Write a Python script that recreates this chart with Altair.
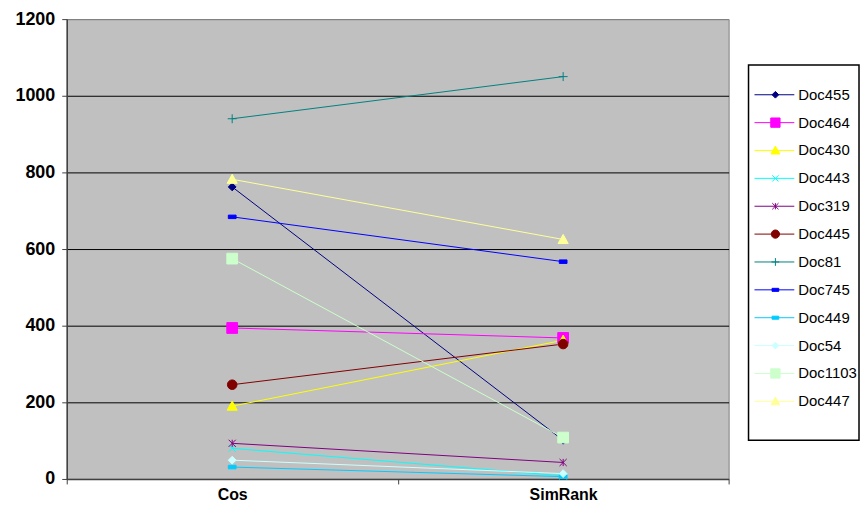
import altair as alt
import pandas as pd

docs = ["Doc455", "Doc464", "Doc430", "Doc443", "Doc319", "Doc445",
        "Doc81", "Doc745", "Doc449", "Doc54", "Doc1103", "Doc447"]
methods = ["Cos", "SimRank"]
cos_vals = [762, 394, 190, 80, 93, 246, 940, 684, 31, 49, 575, 782]
simrank_vals = [101, 368, 362, 8, 43, 352, 1050, 567, 6, 14, 108, 625]
y_ticks = [0, 200, 400, 600, 800, 1000, 1200]

colors = ["#000080", "#FF00FF", "#FFFF00", "#00FFFF", "#800080", "#800000",
          "#008080", "#0000FF", "#00CCFF", "#CCFFFF", "#CCFFCC", "#FFFF99"]
kinds = ["diamond", "square", "triangle", "x", "asterisk", "circle",
         "plus", "dash", "dash", "diamond", "square", "triangle"]
kind_scale = {"diamond": 0.65, "square": 0.9, "triangle": 0.85, "x": 0.6,
              "asterisk": 0.6, "circle": 0.8, "plus": 0.75, "dash": 0.65}


def marker_path(kind, s):
    r = lambda v: f"{v:.3f}"
    if kind == "diamond":
        return f"M0,{r(-s)}L{r(s)},0L0,{r(s)}L{r(-s)},0Z"
    if kind == "square":
        return f"M{r(-s)},{r(-s)}H{r(s)}V{r(s)}H{r(-s)}Z"
    if kind == "triangle":
        return f"M0,{r(-s)}L{r(s)},{r(s*0.8)}H{r(-s)}Z"
    if kind == "x":
        return f"M{r(-s)},{r(-s)}L{r(s)},{r(s)}M{r(-s)},{r(s)}L{r(s)},{r(-s)}"
    if kind == "asterisk":
        return (f"M{r(-s)},{r(-s)}L{r(s)},{r(s)}M{r(-s)},{r(s)}L{r(s)},{r(-s)}"
                f"M0,{r(-s)}V{r(s)}")
    if kind == "circle":
        return (f"M{r(-s)},0A{r(s)},{r(s)},0,1,1,{r(s)},0"
                f"A{r(s)},{r(s)},0,1,1,{r(-s)},0Z")
    if kind == "plus":
        return f"M{r(-s)},0H{r(s)}M0,{r(-s)}V{r(s)}"
    if kind == "dash":
        return f"M{r(-s)},{r(-s*0.45)}H{r(s)}V{r(s*0.45)}H{r(-s)}Z"
    return ""


plot_paths = [marker_path(k, kind_scale[k]) for k in kinds]
legend_paths = [marker_path(k, kind_scale[k] * 1.3) for k in kinds]

rows = []
for d, c, s in zip(docs, cos_vals, simrank_vals):
    rows.append({"doc": d, "method": methods[0], "value": c})
    rows.append({"doc": d, "method": methods[1], "value": s})
df = pd.DataFrame(rows)
legend_df = pd.DataFrame({"doc": docs})

FONT = "Liberation Sans"
color_scale = alt.Scale(domain=docs, range=colors)

x_enc = alt.X(
    "method:N",
    scale=alt.Scale(type="band", domain=methods, paddingInner=0, paddingOuter=0),
    bandPosition=0.5,
    axis=alt.Axis(
        title=None, tickBand="extent", labelAngle=0, grid=False,
        domainColor="#404040", domainWidth=1.5, tickColor="#404040", tickSize=5,
        labelFont=FONT, labelFontSize=16, labelFontWeight="bold", labelColor="black",
        labelPadding=3, labelBaseline="top",
    ),
)
y_enc = alt.Y(
    "value:Q",
    scale=alt.Scale(domain=[0, 1200], nice=False),
    axis=alt.Axis(
        title=None, values=y_ticks, grid=True, format="d",
        gridColor={"condition": {"test": "datum.value >= 1200", "value": "#808080"}, "value": "black"},
        gridWidth=1, domainColor="#404040", domainWidth=1.5, tickColor="#404040", tickSize=5,
        labelFont=FONT, labelFontSize=18, labelFontWeight="bold", labelColor="black",
        labelPadding=7,
    ),
)

lines = alt.Chart(df).mark_line(strokeWidth=1).encode(
    x=x_enc, y=y_enc,
    color=alt.Color("doc:N", scale=color_scale, legend=None),
    detail="doc:N",
)

point_layers = []
for d, col, p in zip(docs, colors, plot_paths):
    point_layers.append(
        alt.Chart(df).transform_filter(alt.datum.doc == d).mark_point(
            shape=p, filled=True, fill=col, stroke=col, strokeWidth=1, size=144, opacity=1
        ).encode(x=x_enc, y=y_enc)
    )

main = alt.layer(lines, *point_layers).properties(
    width=665, height=462,
    view=alt.ViewBackground(fill="#C0C0C0", stroke="#808080", strokeWidth=1),
)

# ---- legend panel ----
ly = alt.Y("doc:N", scale=alt.Scale(type="point", domain=docs, range=[16, 352]), axis=None)

leg_lines = alt.Chart(legend_df).mark_rule(strokeWidth=1).encode(
    x=alt.value(6), x2=alt.value(46), y=ly,
    color=alt.Color("doc:N", scale=color_scale, legend=None),
)
leg_marks = alt.Chart(legend_df).mark_point(filled=True, size=64, strokeWidth=1, opacity=1).encode(
    x=alt.value(27), y=ly,
    fill=alt.Fill("doc:N", scale=color_scale, legend=None),
    stroke=alt.Stroke("doc:N", scale=color_scale, legend=None),
    shape=alt.Shape("doc:N", scale=alt.Scale(domain=docs, range=legend_paths), legend=None),
)
leg_text = alt.Chart(legend_df).mark_text(
    align="left", baseline="middle", font=FONT, fontSize=15, color="black"
).encode(x=alt.value(50), y=ly, text="doc:N")

legend_panel = alt.layer(leg_lines, leg_marks, leg_text).properties(
    width=111, height=377,
    view=alt.ViewBackground(fill="white", stroke="black", strokeWidth=1.5),
)

spacer = alt.Chart(legend_df).mark_point(opacity=0).properties(
    width=111, height=45,
    view=alt.ViewBackground(fill=None, stroke=None),
)

legend_col = alt.vconcat(spacer, legend_panel, spacing=0)

chart = alt.hconcat(main, legend_col, spacing=18).properties(
    padding={"left": 6, "top": 0, "right": 0, "bottom": 0},
    background="white",
)

chart.save("out.html", embed_options={"renderer": "svg", "actions": False})
